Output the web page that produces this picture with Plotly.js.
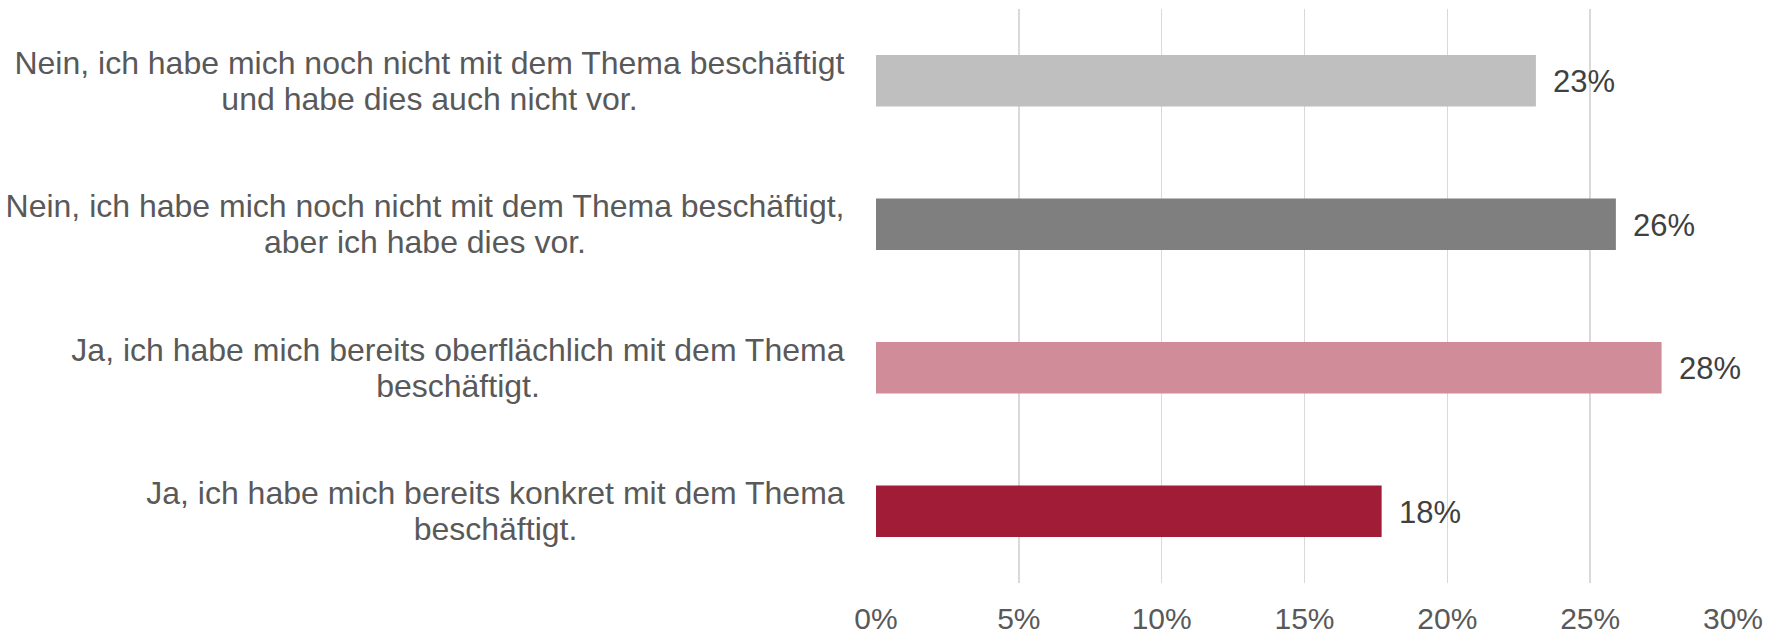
<!DOCTYPE html>
<html>
<head>
<meta charset="utf-8">
<script src="https://cdn.plot.ly/plotly-3.0.1.min.js"></script>
<style>
  html, body { margin: 0; padding: 0; background: #ffffff; }
  #chart { width: 1781px; height: 636px; }
</style>
</head>
<body>
<div id="chart"></div>
<script>
// ---- data (top to bottom) ----
const categories = [
  "Nein, ich habe mich noch nicht mit dem Thema beschäftigt<br>und habe dies auch nicht vor.",
  "Nein, ich habe mich noch nicht mit dem Thema beschäftigt,<br>aber ich habe dies vor.",
  "Ja, ich habe mich bereits oberflächlich mit dem Thema<br>beschäftigt.",
  "Ja, ich habe mich bereits konkret mit dem Thema<br>beschäftigt."
];
const values = [0.231, 0.259, 0.275, 0.177];
const barColors = ["#BFBFBF", "#7F7F7F", "#D08C99", "#A11C37"];
const tickValues = [0, 0.05, 0.10, 0.15, 0.20, 0.25, 0.30];
const tickLabels = ["0%", "5%", "10%", "15%", "20%", "25%", "30%"];

const FONT = "'Liberation Sans', Arial, sans-serif";
const labelSize = 32;

// measure widest line of each category label for centered multi-line blocks
const cnv = document.createElement("canvas");
const ctx = cnv.getContext("2d");
ctx.font = labelSize + "px 'Liberation Sans', Arial, sans-serif";

const annotations = [];
categories.forEach((cat, i) => {
  const lines = cat.split("<br>");
  const w = Math.ceil(Math.max(...lines.map(l => ctx.measureText(l).width))) + 2;
  const n = lines.length;
  lines.forEach((line, j) => {
    const offset = (j - (n - 1) / 2) * 36;
    annotations.push({
      xref: "paper", x: 0, xanchor: "right", xshift: -29,
      yref: "y", y: cat, yanchor: "middle", yshift: -offset,
      text: line, showarrow: false, align: "center", width: w,
      borderpad: 0,
      font: { family: FONT, size: labelSize, color: "#595959" }
    });
  });
  annotations.push({
    xref: "x", x: values[i], xanchor: "left", xshift: 15,
    yref: "y", y: cat, yanchor: "middle", yshift: -1,
    text: Math.round(values[i] * 100) + "%", showarrow: false,
    font: { family: FONT, size: 31, color: "#404040" }
  });
});

const trace = {
  type: "bar",
  orientation: "h",
  y: categories,
  x: values,
  marker: { color: barColors },
  hoverinfo: "skip"
};

const layout = {
  width: 1781,
  height: 636,
  margin: { l: 876, r: 48, t: 9, b: 53, pad: 0 },
  paper_bgcolor: "#ffffff",
  plot_bgcolor: "#ffffff",
  showlegend: false,
  bargap: 0.64,
  xaxis: {
    range: [0, 0.30],
    tickvals: tickValues,
    ticktext: tickLabels,
    showgrid: true,
    gridcolor: "#D9D9D9",
    gridwidth: 1.5,
    zeroline: false,
    showline: false,
    ticks: "",
    ticklabelstandoff: 15,
    tickfont: { family: FONT, size: 30, color: "#595959" }
  },
  yaxis: {
    type: "category",
    autorange: "reversed",
    showticklabels: false,
    showgrid: false,
    zeroline: false,
    showline: false,
    ticks: ""
  },
  annotations: annotations
};

Plotly.newPlot("chart", [trace], layout, { displayModeBar: false, staticPlot: true });
</script>
</body>
</html>
